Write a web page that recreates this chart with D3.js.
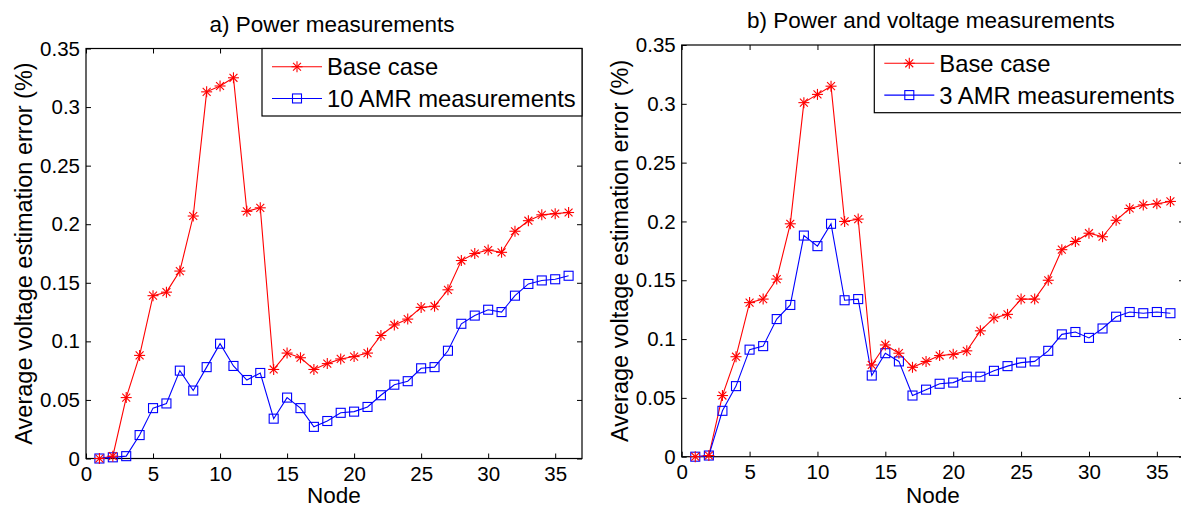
<!DOCTYPE html>
<html><head><meta charset="utf-8">
<script src="https://cdn.jsdelivr.net/npm/d3@7"></script>
<style>body{margin:0;background:#fff}svg{display:block;font-family:"Liberation Sans",Arial,sans-serif}</style>
</head><body><svg id="c" width="1181" height="509"></svg>
<script>
const nodes = [1,2,3,4,5,6,7,8,9,10,11,12,13,14,15,16,17,18,19,20,21,22,23,24,25,26,27,28,29,30,31,32,33,34,35,36];
const baseA = [0,0.002,0.052,0.088,0.139,0.142,0.160,0.207,0.313,0.318,0.325,0.211,0.214,0.076,0.090,0.086,0.076,0.081,0.085,0.087,0.090,0.105,0.114,0.119,0.129,0.130,0.144,0.169,0.175,0.178,0.176,0.194,0.203,0.208,0.209,0.210];
const amrA  = [0,0.001,0.002,0.020,0.043,0.047,0.075,0.058,0.078,0.098,0.079,0.067,0.073,0.034,0.052,0.043,0.027,0.032,0.039,0.040,0.044,0.054,0.063,0.066,0.077,0.078,0.092,0.115,0.122,0.127,0.125,0.139,0.149,0.152,0.153,0.156];
const baseB = [0,0.001,0.052,0.085,0.131,0.134,0.151,0.198,0.301,0.308,0.315,0.200,0.202,0.078,0.095,0.088,0.076,0.081,0.086,0.087,0.090,0.107,0.118,0.121,0.134,0.134,0.150,0.176,0.183,0.190,0.187,0.201,0.211,0.214,0.215,0.217];
const amrB  = [0,0.001,0.039,0.060,0.091,0.094,0.117,0.129,0.188,0.179,0.198,0.133,0.134,0.069,0.088,0.081,0.052,0.057,0.062,0.063,0.068,0.068,0.073,0.077,0.080,0.081,0.090,0.104,0.106,0.101,0.109,0.119,0.123,0.122,0.123,0.122];
const xTicks = [0,5,10,15,20,25,30,35];
const yTicks = [0,0.05,0.1,0.15,0.2,0.25,0.3,0.35];
const titles = ["a) Power measurements","b) Power and voltage measurements"];
const legendA = ["Base case","10 AMR measurements"];
const legendB = ["Base case","3 AMR measurements"];
const xLabel = "Node";
const yLabel = "Average voltage estimation error (%)";

const svg = d3.select("#c");

function star(g, x, y, r){
  const p = g.append("g").attr("transform",`translate(${x},${y})`).attr("stroke","#ff0000").attr("stroke-width",1.1);
  p.append("line").attr("x1",-r).attr("x2",r).attr("y1",0).attr("y2",0);
  p.append("line").attr("x1",0).attr("x2",0).attr("y1",-r).attr("y2",r);
  const d = r*0.72;
  p.append("line").attr("x1",-d).attr("x2",d).attr("y1",-d).attr("y2",d);
  p.append("line").attr("x1",-d).attr("x2",d).attr("y1",d).attr("y2",-d);
}
function square(g, x, y, s){
  g.append("rect").attr("x",x-s/2).attr("y",y-s/2).attr("width",s).attr("height",s)
   .attr("fill","none").attr("stroke","#0000ff").attr("stroke-width",1.1);
}

function panel(cfg){
  const {x0,x1,y0,y1,title,red,blue,leg,legBox,ylabX} = cfg;
  const x = d3.scaleLinear().domain([0,37]).range([x0,x1]);
  const y = d3.scaleLinear().domain([0,0.35]).range([y1,y0]);
  const g = svg.append("g");
  const fmt = d3.format("~g");
  const tl = 5;
  g.append("g").attr("transform",`translate(0,${y1})`)
    .call(d3.axisBottom(x).tickValues(xTicks).tickFormat(fmt).tickSizeInner(-tl).tickSizeOuter(0).tickPadding(8))
    .call(a=>{a.select(".domain").remove();a.selectAll("text").attr("font-size",20.5).attr("fill","#000").attr("font-family","Liberation Sans, Arial, sans-serif");a.selectAll("line").attr("stroke","#000");});
  g.append("g").attr("transform",`translate(0,${y0})`)
    .call(d3.axisTop(x).tickValues(xTicks).tickFormat("").tickSizeInner(-tl).tickSizeOuter(0))
    .call(a=>{a.select(".domain").remove();a.selectAll("line").attr("stroke","#000");});
  g.append("g").attr("transform",`translate(${x0},0)`)
    .call(d3.axisLeft(y).tickValues(yTicks).tickFormat(fmt).tickSizeInner(-tl).tickSizeOuter(0).tickPadding(6))
    .call(a=>{a.select(".domain").remove();a.selectAll("text").attr("font-size",20.5).attr("fill","#000").attr("font-family","Liberation Sans, Arial, sans-serif");a.selectAll("line").attr("stroke","#000");});
  g.append("g").attr("transform",`translate(${x1},0)`)
    .call(d3.axisRight(y).tickValues(yTicks).tickFormat("").tickSizeInner(-tl).tickSizeOuter(0))
    .call(a=>{a.select(".domain").remove();a.selectAll("line").attr("stroke","#000");});
  g.append("rect").attr("x",x0).attr("y",y0).attr("width",x1-x0).attr("height",y1-y0)
    .attr("fill","none").attr("stroke","#000").attr("stroke-width",1.2);
  g.append("text").attr("x",(x0+x1)/2 - 2).attr("y",y0-17).attr("text-anchor","middle")
    .attr("font-size",22.5).text(title);
  g.append("text").attr("x",(x0+x1)/2).attr("y",503).attr("text-anchor","middle")
    .attr("font-size",22.5).text(xLabel);
  g.append("text").attr("transform",`translate(${ylabX},${(y0+y1)/2}) rotate(-90)`)
    .attr("text-anchor","middle").attr("dominant-baseline","central").attr("font-size",23.5).text(yLabel);
  const line = d3.line().x((d,i)=>x(nodes[i])).y(d=>y(d));
  g.append("path").datum(red).attr("d",line).attr("fill","none").attr("stroke","#ff0000").attr("stroke-width",1.1);
  g.append("path").datum(blue).attr("d",line).attr("fill","none").attr("stroke","#0000ff").attr("stroke-width",1.1);
  blue.forEach((v,i)=>square(g,x(nodes[i]),y(v),9));
  red.forEach((v,i)=>star(g,x(nodes[i]),y(v),5.5));
  const lb = legBox;
  g.append("rect").attr("x",lb.x).attr("y",lb.y).attr("width",lb.w).attr("height",lb.h)
    .attr("fill","#fff").attr("stroke","#000").attr("stroke-width",1.2);
  const rows = [lb.y+lb.h*0.27, lb.y+lb.h*0.74];
  const lx0 = lb.x+10, lx1 = lb.x+60;
  g.append("line").attr("x1",lx0).attr("x2",lx1).attr("y1",rows[0]).attr("y2",rows[0]).attr("stroke","#ff0000").attr("stroke-width",1.1);
  star(g,(lx0+lx1)/2,rows[0],5.5);
  g.append("line").attr("x1",lx0).attr("x2",lx1).attr("y1",rows[1]).attr("y2",rows[1]).attr("stroke","#0000ff").attr("stroke-width",1.1);
  square(g,(lx0+lx1)/2,rows[1],9);
  leg.forEach((t,i)=>g.append("text").attr("x",lx1+5).attr("y",rows[i]).attr("dominant-baseline","central")
    .attr("font-size",23.8).text(t));
}

panel({x0:86,x1:582,y0:48.5,y1:458.5,title:titles[0],red:baseA,blue:amrA,leg:legendA,
  legBox:{x:262,y:48.5,w:320,h:67.5},ylabX:24});
panel({x0:681.7,x1:1184,y0:45,y1:456.7,title:titles[1],red:baseB,blue:amrB,leg:legendB,
  legBox:{x:874.3,y:45,w:309.7,h:67.7},ylabX:620});
</script></body></html>
